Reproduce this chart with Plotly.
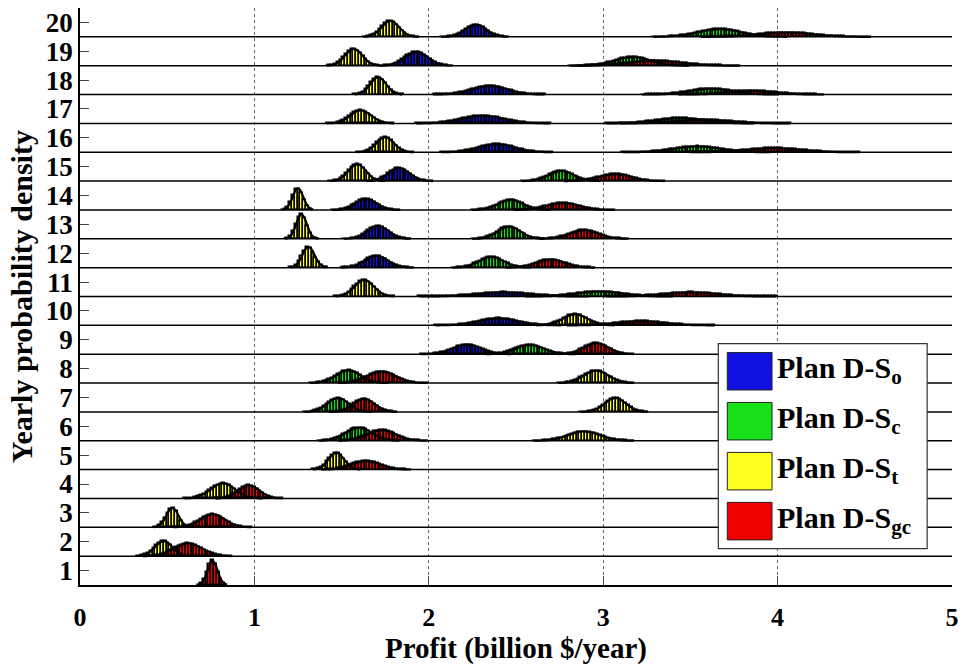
import numpy as np
import plotly.graph_objects as go

# ---- axis data -------------------------------------------------------------
YEARS = list(range(1, 21))
X_TICKS = [0, 1, 2, 3, 4, 5]

# ---- per-plan distributions: year, centre, spread, peak height ------------
# Plan D-So (blue)
so_year = [20, 19, 18, 17, 16, 15, 14, 13, 12, 11, 10, 9]
so_center = [2.27, 1.93, 2.35, 2.31, 2.39, 1.83, 1.64, 1.71, 1.70, 2.43, 2.40, 2.22]
so_spread = [0.06, 0.065, 0.10, 0.12, 0.10, 0.06, 0.06, 0.06, 0.065, 0.15, 0.11, 0.08]
so_peak = [0.42, 0.48, 0.30, 0.26, 0.28, 0.45, 0.38, 0.44, 0.41, 0.14, 0.24, 0.33]

# Plan D-Sc (green)
sc_year = [20, 19, 18, 17, 16, 15, 14, 13, 12, 11, 9, 8, 7, 6]
sc_center = [3.67, 3.17, 3.62, 3.44, 3.54, 2.76, 2.47, 2.46, 2.36, 2.98, 2.58, 1.54, 1.48, 1.60]
sc_spread = [0.12, 0.10, 0.12, 0.13, 0.13, 0.07, 0.07, 0.065, 0.07, 0.13, 0.08, 0.07, 0.06, 0.075]
sc_peak = [0.27, 0.30, 0.20, 0.18, 0.20, 0.35, 0.35, 0.42, 0.37, 0.17, 0.32, 0.44, 0.48, 0.45]

# Plan D-St (yellow)
st_year = [20, 19, 18, 17, 16, 15, 14, 13, 12, 11, 10, 8, 7, 6, 5, 4, 3, 2]
st_center = [1.78, 1.57, 1.71, 1.61, 1.75, 1.59, 1.25, 1.27, 1.31, 1.63, 2.84, 2.96, 3.07, 2.89, 1.47, 0.82, 0.53, 0.48]
st_spread = [0.05, 0.05, 0.045, 0.06, 0.05, 0.05, 0.03, 0.03, 0.035, 0.055, 0.07, 0.07, 0.06, 0.09, 0.045, 0.07, 0.035, 0.05]
st_peak = [0.55, 0.58, 0.60, 0.45, 0.52, 0.58, 0.75, 0.85, 0.72, 0.57, 0.38, 0.43, 0.48, 0.32, 0.58, 0.52, 0.67, 0.52]

# Plan D-Sgc (red)
sgc_year = [20, 19, 18, 17, 16, 15, 14, 13, 12, 11, 10, 9, 8, 7, 6, 5, 4, 3, 2, 1]
sgc_center = [4.05, 3.30, 3.85, 3.58, 3.98, 3.07, 2.77, 2.89, 2.70, 3.50, 3.22, 2.96, 1.73, 1.63, 1.73, 1.64, 0.97, 0.76, 0.62, 0.76]
sgc_spread = [0.15, 0.15, 0.13, 0.15, 0.15, 0.09, 0.09, 0.08, 0.08, 0.15, 0.13, 0.07, 0.08, 0.06, 0.08, 0.08, 0.06, 0.07, 0.08, 0.028]
sgc_peak = [0.15, 0.17, 0.13, 0.12, 0.14, 0.24, 0.24, 0.30, 0.28, 0.14, 0.14, 0.38, 0.40, 0.45, 0.37, 0.30, 0.45, 0.45, 0.44, 0.85]

PLANS = [
    ("o", "#1010e0", so_year, so_center, so_spread, so_peak),
    ("c", "#18e018", sc_year, sc_center, sc_spread, sc_peak),
    ("t", "#ffff20", st_year, st_center, st_spread, st_peak),
    ("gc", "#f00000", sgc_year, sgc_center, sgc_spread, sgc_peak),
]

BIN = 0.016
bin_centers = np.arange(BIN / 2, 5, BIN)

SERIF = "Liberation Serif"

fig = go.Figure()

# row baselines (year k sits on k - 0.5)
bx, by = [], []
for k in YEARS[1:]:
    bx += [0, 5, None]
    by += [k - 0.5, k - 0.5, None]
fig.add_trace(go.Scatter(x=bx, y=by, mode="lines",
                         line=dict(color="black", width=1.5),
                         hoverinfo="skip", showlegend=False))

# histogram-style density ridges
for name, col, years, centers, spreads, peaks in PLANS:
    for yr, c, s, p in zip(years, centers, spreads, peaks):
        m = np.abs(bin_centers - c) <= 3.3 * s
        xs = bin_centers[m]
        hs = p * np.exp(-0.5 * ((xs - c) / s) ** 2)
        fig.add_trace(go.Bar(
            x=xs, y=hs, base=yr - 0.5, width=BIN,
            marker=dict(color=col, line=dict(color="black", width=1.5)),
            showlegend=False, hoverinfo="skip"))
        fig.add_trace(go.Scatter(
            x=xs, y=yr - 0.5 + hs, mode="lines",
            line=dict(color="black", width=2.2, shape="spline"),
            showlegend=False, hoverinfo="skip"))

# legend box with large swatches
lx0, lx1 = 0.7320, 0.9715
ly0, ly1 = 0.0632, 0.4184
shapes = [dict(type="rect", xref="paper", yref="paper", x0=lx0, x1=lx1, y0=ly0, y1=ly1,
               line=dict(color="#333", width=1.2), fillcolor="white", layer="above")]
annotations = []
entry_top = 0.4030
entry_step = 0.0866
sw_h = 0.0650
for i, (name, col, *_rest) in enumerate(PLANS):
    top = entry_top - i * entry_step
    shapes.append(dict(type="rect", xref="paper", yref="paper",
                       x0=0.7423, x1=0.7936, y0=top - sw_h, y1=top,
                       line=dict(color="#222", width=1), fillcolor=col, layer="above"))
    annotations.append(dict(xref="paper", yref="paper", x=0.7970, y=top - sw_h / 2 + 0.002,
                            xanchor="left", yanchor="middle", showarrow=False,
                            text=f"Plan D-S<sub>{name}</sub>",
                            font=dict(family=SERIF, size=30, color="black", weight="bold")))

fig.update_layout(
    width=967, height=666,
    margin=dict(l=80, r=10, t=8, b=73),
    paper_bgcolor="white", plot_bgcolor="white",
    barmode="overlay", bargap=0,
    showlegend=False,
    shapes=shapes, annotations=annotations,
    font=dict(family=SERIF, color="black"),
)

fig.update_xaxes(
    range=[0, 5], tickvals=X_TICKS, ticktext=[str(v) for v in X_TICKS],
    ticks="inside", ticklen=9, tickcolor="#444", tickwidth=1,
    showline=True, linecolor="black", linewidth=1.5,
    showgrid=True, gridcolor="#666", griddash="dot", gridwidth=1,
    zeroline=False,
    ticklabelstandoff=8,
    tickfont=dict(family=SERIF, size=26, color="black", weight="bold"),
    title=dict(text="Profit (billion $/year)", standoff=6,
               font=dict(family=SERIF, size=29, color="black", weight="bold")),
)
fig.update_yaxes(
    range=[0.5, 20.5], tickvals=YEARS, ticktext=[str(v) for v in YEARS],
    ticks="inside", ticklen=9, tickcolor="#444", tickwidth=1,
    showline=True, linecolor="black", linewidth=1.5,
    showgrid=False, zeroline=False,
    tickfont=dict(family=SERIF, size=27, color="black", weight="bold"),
    title=dict(text="Yearly probability density", standoff=4,
               font=dict(family=SERIF, size=30, color="black", weight="bold")),
)

fig.write_html("out.html")
